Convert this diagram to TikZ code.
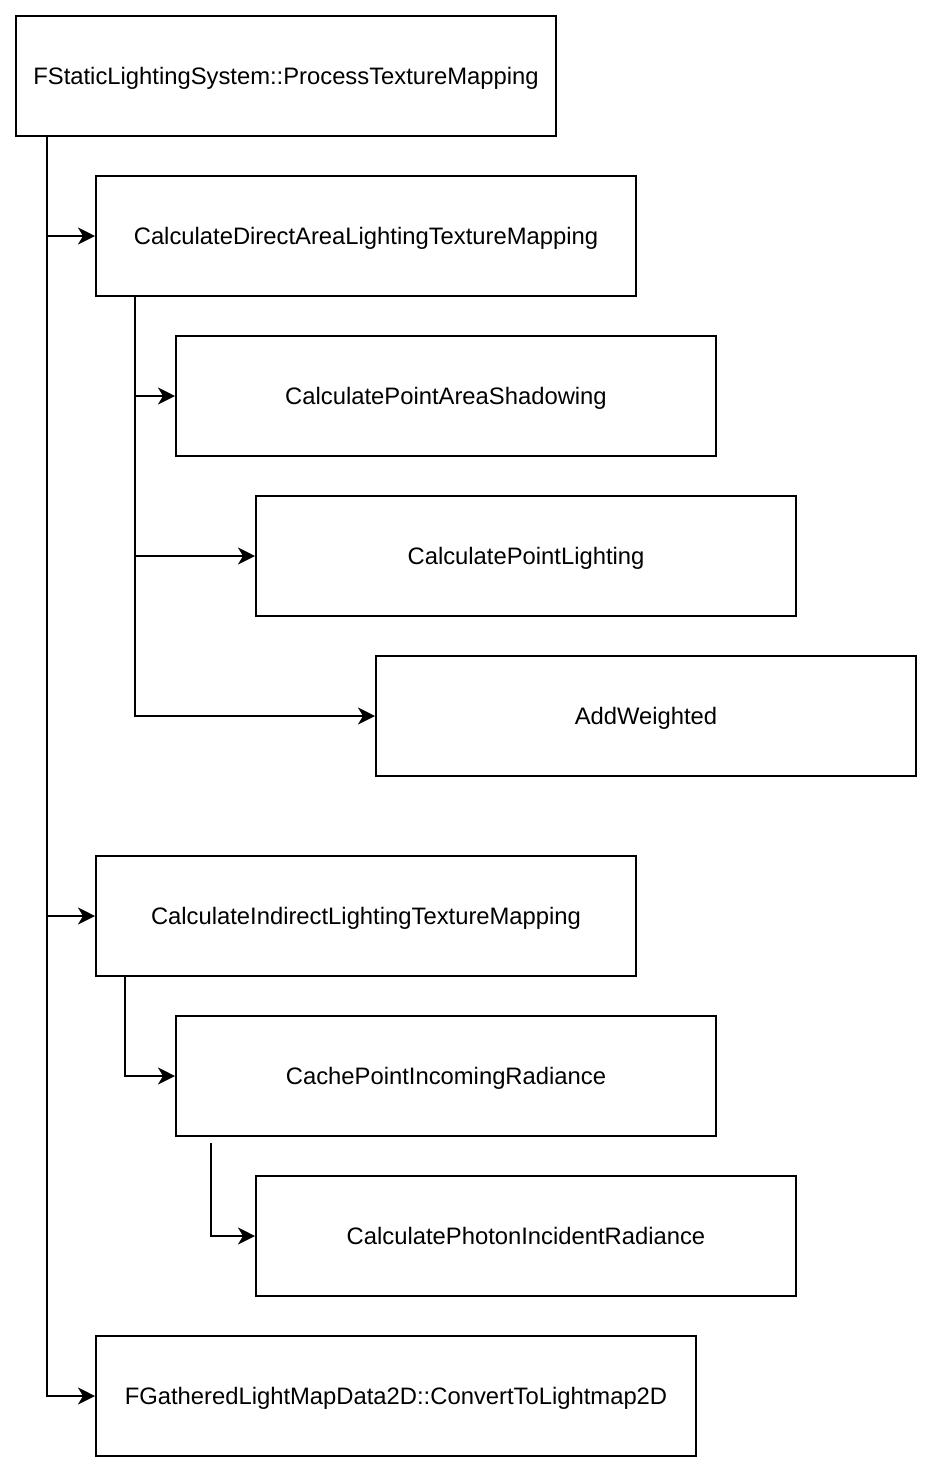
\documentclass[tikz,border=0pt]{standalone}
\usepackage{fontspec}
\setmainfont{Liberation Sans}
\usetikzlibrary{arrows.meta}

\begin{document}
\begin{tikzpicture}[x=0.5pt,y=-0.5pt,
    fn/.style={draw,line width=1pt,rectangle,minimum width=270pt,minimum height=60pt,
      inner sep=0pt,text depth=0pt,font=\fontsize{11.9}{14}\selectfont},
    call/.style={line width=1pt,-{Stealth[length=8.5pt,width=8.5pt,inset=2.5pt]}}]
    \useasboundingbox (0,0) rectangle (934,1474);
    % functions
    \node[fn] (psys) at (286,76) {FStaticLightingSystem::ProcessTextureMapping};
    \node[fn] (direct) at (366,236) {CalculateDirectAreaLightingTextureMapping};
    \node[fn] (shadow) at (446,396) {CalculatePointAreaShadowing};
    \node[fn] (plight) at (526,556) {CalculatePointLighting};
    \node[fn] (addw) at (646,716) {AddWeighted};
    \node[fn] (indirect) at (366,916) {CalculateIndirectLightingTextureMapping};
    \node[fn] (cache) at (446,1076) {CachePointIncomingRadiance};
    \node[fn] (photon) at (526,1236) {CalculatePhotonIncidentRadiance};
    \node[fn,minimum width=300pt] (gather) at (396,1396) {FGatheredLightMapData2D::ConvertToLightmap2D};
    % calls
    \foreach \n in {direct,indirect,gather}
      \draw[call] ([xshift=16pt]psys.south west) |- (\n.west);
    \foreach \n in {shadow,plight,addw}
      \draw[call] ([xshift=20pt]direct.south west) |- (\n.west);
    \draw[call] ([xshift=15pt]indirect.south west) |- (cache.west);
    \draw[call] ([xshift=18pt,yshift=-3pt]cache.south west) |- (photon.west);
\end{tikzpicture}
\end{document}
